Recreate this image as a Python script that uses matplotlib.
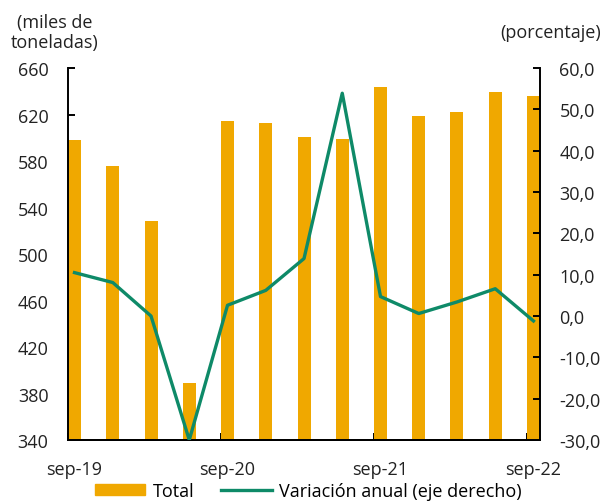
import matplotlib.pyplot as plt
from matplotlib.patches import Patch
from matplotlib.lines import Line2D

plt.rcParams['font.family'] = ['Open Sans', 'DejaVu Sans']

# quarterly data, sep-19 .. sep-22
total = [598, 576, 528, 389, 614, 613, 601, 599, 644, 619, 622, 639, 636]
variacion = [10.5, 8.1, 0.0, -30.0, 2.6, 6.2, 13.9, 53.9, 4.7, 0.6, 3.4, 6.6, -1.2]
x_labels = ['sep-19', 'sep-20', 'sep-21', 'sep-22']
tick_idx = [0, 4, 8, 12]

bar_color = '#F0A800'
line_color = '#0E8A68'
txt = '#222222'
fs = 13
w = 0.34
x = list(range(len(total)))

fig = plt.figure(figsize=(6.02, 5.02), dpi=100)
ax = fig.add_axes([0.113, 0.1215, 0.784, 0.741])
ax2 = ax.twinx()

ax.bar(x, total, width=w, color=bar_color, zorder=2)
ax2.plot(x, variacion, color=line_color, lw=2.4, zorder=3)

ax.set_xlim(-w / 2, len(total) - 1 + w / 2)
ax.set_ylim(340, 660)
ax.set_yticks(range(340, 661, 40))
ax2.set_ylim(-30, 60)
ax2.set_yticks(range(-30, 61, 10))
ax2.set_yticklabels([f'{v:.1f}'.replace('.', ',') for v in range(-30, 61, 10)])

# ticks sit at the left edge of the bar, labels under the bar centre
ax.set_xticks([i - w / 2 for i in tick_idx])
ax.set_xticklabels([])
for lab, p in zip(x_labels, tick_idx):
    ax.text(p, -0.078, lab, transform=ax.get_xaxis_transform(), ha='center', va='center', fontsize=fs, color=txt)

for a in (ax, ax2):
    for s in a.spines.values():
        s.set_linewidth(1.4)
    a.spines['top'].set_visible(False)
ax.tick_params(axis='both', direction='in', length=5, width=1.4, labelsize=fs, labelcolor=txt)
ax.tick_params(axis='y', pad=14)
ax2.tick_params(axis='y', direction='in', length=5, width=1.4, labelsize=fs, pad=14, labelcolor=txt)
ax2.spines['left'].set_visible(False)
ax.spines['right'].set_visible(False)

fig.text(0.091, 0.934, '(miles de\ntoneladas)', ha='center', va='center', fontsize=fs, color=txt, linespacing=1.15)
fig.text(0.914, 0.934, '(porcentaje)', ha='center', va='center', fontsize=fs, color=txt)

handles = [Patch(color=bar_color), Line2D([0], [0], color=line_color, lw=2.4)]
fig.legend(handles, ['Total', 'Variación anual (eje derecho)'], loc='center', bbox_to_anchor=(0.512, 0.02),
           ncol=2, frameon=False, fontsize=fs, handlelength=2.8, handleheight=0.55, columnspacing=1.5,
           handletextpad=0.4, borderpad=0.1)

fig.savefig('out.png', dpi=100)
